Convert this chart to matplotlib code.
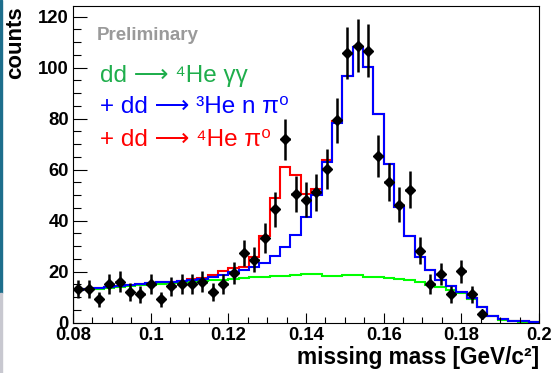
import matplotlib
matplotlib.use("Agg")
import matplotlib.pyplot as plt
import matplotlib.ticker as ticker
from matplotlib.patches import Rectangle
import numpy as np

plt.rcParams['font.family'] = ['Liberation Sans', 'DejaVu Sans']

# 45 bins from 0.08 to 0.2 GeV/c^2
x_lo, x_hi, n_bins = 0.08, 0.2, 45

# simulated contributions (stacked)
green_h = [12.8, 13.1, 13.4, 13.7, 14.0, 14.3, 14.6, 14.9, 15.2, 15.5,
           15.8, 16.0, 16.3, 16.6, 16.9, 17.2, 17.5, 17.8, 18.0, 18.3,
           18.5, 18.8, 19.0, 19.1, 18.5, 18.4, 18.9, 18.7, 18.1, 17.8,
           17.6, 17.3, 16.9, 15.8, 14.8, 14.0, 12.9, 11.6, 9.3, 6.0,
           2.5, 1.2, 0.5, 0.4, 0.1]
blue_h = [13.0, 13.3, 13.7, 14.0, 14.4, 14.7, 15.1, 15.4, 15.8, 16.1,
          16.4, 16.7, 17.0, 17.9, 18.8, 19.7, 20.7, 21.8, 23.6, 26.0,
          29.8, 34.5, 41.5, 50.0, 63.0, 78.2, 96.6, 108.3, 100.2, 81.8,
          62.2, 45.5, 34.0, 25.7, 20.5, 16.6, 14.2, 12.2, 9.6, 6.3,
          2.6, 1.3, 0.6, 0.6, 0.2]
red_h = [13.0, 13.3, 13.7, 14.0, 14.4, 14.7, 15.1, 15.4, 15.8, 16.1,
         16.4, 17.2, 17.5, 18.6, 20.1, 21.4, 22.0, 25.7, 34.1, 49.0,
         61.0, 58.0, 50.5, 52.5, 64.0, 79.0, 96.8, 108.3, 100.2, 81.8,
         62.2, 45.5, 34.0, 25.7, 20.5, 16.6, 14.2, 12.2, 9.6, 6.3,
         2.6, 1.3, 0.6, 0.6, 0.2]

# measured data (first 40 bins)
data_y = [13.1, 13.1, 9.2, 15.1, 16.1, 12.0, 11.2, 15.2, 9.2, 14.2,
          15.2, 15.2, 16.1, 12.2, 15.2, 19.4, 27.3, 24.7, 33.2, 44.4,
          71.9, 50.6, 48.3, 51.2, 60.4, 79.4, 105.7, 108.7, 106.7, 65.4,
          55.3, 46.3, 52.2, 28.2, 15.2, 19.2, 11.2, 20.1, 11.2, 3.3]
data_err = [3.6, 3.6, 3.0, 3.9, 4.0, 3.5, 3.3, 3.9, 3.0, 3.8,
            3.9, 3.9, 4.0, 3.5, 3.9, 4.4, 5.2, 5.0, 5.8, 6.7,
            8.0, 7.1, 6.9, 7.2, 7.8, 8.9, 10.3, 10.4, 10.3, 8.1,
            7.4, 6.8, 7.2, 5.3, 3.9, 4.4, 3.3, 4.5, 3.3, 1.8]

edges = np.linspace(x_lo, x_hi, n_bins + 1)
centers = 0.5 * (edges[:-1] + edges[1:])
bw = edges[1] - edges[0]

fig = plt.figure(figsize=(5.52, 3.73), dpi=100)
ax = fig.add_axes([73/552, 1 - 322.7/373, 466/552, 316.7/373])

ax.stairs(green_h, edges, color='#00ff00', lw=1.5)
ax.stairs(red_h, edges, color='#ff0000', lw=1.5)
ax.stairs(blue_h, edges, color='#0000ff', lw=1.5)

ax.errorbar(centers[:len(data_y)], data_y, yerr=data_err, xerr=bw * 0.42,
            fmt='D', color='black', ms=5, elinewidth=1.8, capsize=0, zorder=5)

ax.set_xlim(x_lo, x_hi)
ax.set_ylim(0, 124.2)
ax.xaxis.set_major_locator(ticker.MultipleLocator(0.02))
ax.xaxis.set_minor_locator(ticker.MultipleLocator(0.005))
ax.xaxis.set_major_formatter(ticker.FormatStrFormatter('%g'))
ax.yaxis.set_major_locator(ticker.MultipleLocator(20))
ax.yaxis.set_minor_locator(ticker.MultipleLocator(5))

ax.tick_params(axis='both', which='both', direction='in', top=False, right=False,
               width=0.8, labelsize=13.3)
ax.tick_params(axis='x', which='major', length=7.2, pad=3)
ax.tick_params(axis='x', which='minor', length=4.3)
ax.tick_params(axis='y', which='major', length=10, pad=3)
ax.tick_params(axis='y', which='minor', length=5.8)
for lab in ax.get_xticklabels() + ax.get_yticklabels():
    lab.set_fontweight('bold')
for sp in ax.spines.values():
    sp.set_linewidth(0.8)

ax.set_xlabel('missing mass [GeV/c²]', fontsize=16.3, fontweight='bold', loc='right')
ax.xaxis.set_label_coords(1.0, -0.072)
ax.set_ylabel('counts', fontsize=16, fontweight='bold', loc='top')
ax.yaxis.set_label_coords(-0.1, 1.0)

ax.text(0.052, 0.908, 'Preliminary', transform=ax.transAxes, fontsize=13.5,
        fontweight='bold', color='#9a9a9a', va='center')
ax.text(0.058, 0.78, 'dd ⟶ ⁴He γγ', transform=ax.transAxes, fontsize=17.5,
        color='#1fae4c', va='center')
ax.text(0.058, 0.68, '+ dd ⟶ ³He n π⁰', transform=ax.transAxes, fontsize=17.5,
        color='#0000ff', va='center')
ax.text(0.058, 0.578, '+ dd ⟶ ⁴He π⁰', transform=ax.transAxes, fontsize=17.5,
        color='#ff0000', va='center')

# window frame strip on the left edge
fig.patches.append(Rectangle((0, 1 - 293/373), 2/552, 293/373,
                             transform=fig.transFigure, color='#1d6e8c'))
fig.patches.append(Rectangle((0, 0), 2/552, 1 - 293/373,
                             transform=fig.transFigure, color='#c8c8d0'))

fig.savefig('out.png', dpi=100)
